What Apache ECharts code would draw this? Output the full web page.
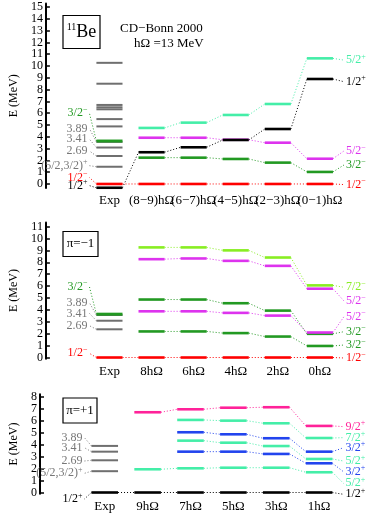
<!DOCTYPE html>
<html>
<head>
<meta charset="utf-8">
<script src="https://cdn.jsdelivr.net/npm/echarts@6/dist/echarts.min.js"></script>
<style>
html, body { margin: 0; padding: 0; background: #fff; }
#chart { width: 374px; height: 516px; }
</style>
</head>
<body>
<div id="chart"></div>
<script>
//--------------------------------
// Data (energies in MeV, index 0 = Exp column)
//--------------------------------
const cats1 = ['Exp', '(8−9)hΩ', '(6−7)hΩ', '(4−5)hΩ', '(2−3)hΩ', '(0−1)hΩ'];
const cats2 = ['Exp', '8hΩ', '6hΩ', '4hΩ', '2hΩ', '0hΩ'];
const cats3 = ['Exp', '9hΩ', '7hΩ', '5hΩ', '3hΩ', '1hΩ'];

const ticks1 = [0, 1, 2, 3, 4, 5, 6, 7, 8, 9, 10, 11, 12, 13, 14, 15];
const ticks2 = [0, 1, 2, 3, 4, 5, 6, 7, 8, 9, 10, 11];
const ticks3 = [0, 1, 2, 3, 4, 5, 6, 7, 8];

// panel 1 : all states
const p1Red = [0, 0, 0, 0, 0, 0];                      // 1/2-
const p1Black = [-0.32, 2.69, 3.11, 3.73, 4.66, 8.9];  // 1/2+
const p1Green = [null, 2.23, 2.23, 2.12, 1.81, 1.02];  // 3/2-
const p1Magenta = [null, 3.92, 3.92, 3.75, 3.5, 2.14]; // 5/2-
const p1Mint = [null, 4.75, 5.2, 5.85, 6.78, 10.65];   // 5/2+
const p1ExpGrey = [10.27, 8.5, 6.7, 6.5, 6.33, 5.5, 4.88, 3.57, 3.09, 2.37, 1.46];
const p1ExpGreen = [3.64];

// panel 2 : pi = -1
const p2Red = [0, 0, 0, 0, 0, 0];                       // 1/2-
const p2Green1 = [null, 2.19, 2.19, 2.05, 1.76, 0.97];  // 3/2-
const p2Magenta1 = [null, 3.88, 3.88, 3.75, 3.52, 2.1]; // 5/2-
const p2Green2 = [null, 4.87, 4.87, 4.56, 3.94, 1.99];  // 3/2-
const p2Magenta2 = [null, 8.26, 8.32, 8.12, 7.7, 5.78]; // 5/2-
const p2Lime = [null, 9.25, 9.25, 9.0, 8.4, 6.06];      // 7/2-
const p2ExpGrey = [3.57, 3.09, 2.37];
const p2ExpGreen = [3.64];

// panel 3 : pi = +1
const p3Black = [0, 0, 0, 0, 0, 0];                     // 1/2+
const p3Mint1 = [null, 1.94, 2.02, 2.07, 2.07, 1.69];   // 5/2+
const p3Blue1 = [null, null, 3.41, 3.41, 3.22, 2.44];   // 3/2+
const p3Mint2 = [null, null, 4.33, 4.16, 3.88, 2.8];    // 5/2+
const p3Blue2 = [null, null, 5.03, 4.86, 4.53, 3.41];   // 3/2+
const p3Mint3 = [null, null, 6.06, 6.0, 5.78, 4.55];    // 7/2+
const p3Pink = [null, 6.7, 6.95, 7.08, 7.12, 5.56];     // 9/2+
const p3ExpGrey = [3.89, 3.41, 2.69, 1.78];

// spin labels (text, level they point to)
const p1LeftText = ['3/2^−', '3.89', '3.41', '2.69', '(5/2,3/2)^+', '1/2^−', '1/2^+'];
const p1LeftTo = [3.64, 3.57, 3.09, 2.37, 1.46, 0, -0.32];
const p1RightText = ['5/2^+', '1/2^+', '5/2^−', '3/2^−', '1/2^−'];
const p2LeftText = ['3/2^−', '3.89', '3.41', '2.69', '1/2^−'];
const p2LeftTo = [3.64, 3.57, 3.09, 2.37, 0];
const p2RightText = ['7/2^−', '5/2^−', '5/2^−', '3/2^−', '3/2^−', '1/2^−'];
const p3LeftText = ['3.89', '3.41', '2.69', '(5/2,3/2)^+', '1/2^+'];
const p3LeftTo = [3.89, 3.41, 2.69, 1.78, 0];
const p3RightText = ['9/2^+', '7/2^+', '3/2^+', '5/2^+', '3/2^+', '5/2^+', '1/2^+'];

//--------------------------------
// Layout / style
//--------------------------------
// label heights (spread out so they don't collide)
const p1LeftY = [6.0, 4.7, 3.8, 2.8, 1.55, 0.55, -0.14];
const p1RightY = [10.5, 8.67, 2.8, 1.61, -0.05];
const p2LeftY = [5.95, 4.6, 3.71, 2.67, 0.35];
const p2RightY = [5.9, 4.75, 3.43, 2.17, 1.05, -0.04];
const p3LeftY = [4.58, 3.74, 2.63, 1.6, -0.54];
const p3RightY = [5.5, 4.58, 3.74, 2.63, 1.74, 0.77, -0.15];

const C = {
    red: '#ff0000', black: '#000000', grey: '#6f6f6f', greyTxt: '#777777',
    green: '#229922', mint: '#44eea8', magenta: '#dd33ee',
    lime: '#88ee22', pink: '#ff2299', blue: '#2244ee'
};
const FONT = 'Liberation Serif';
const HALF = 0.31;

const RICH = {
    n: { fontSize: 12, fontFamily: FONT, lineHeight: 15 },
    s: { fontSize: 8, fontFamily: FONT, lineHeight: 8, verticalAlign: 'top' }
};
const sup = (t) => {
    const k = t.indexOf('^');
    if (k < 0) return '{n|' + t + '}';
    return '{n|' + t.slice(0, k) + '}{s|' + t.slice(k + 1) + '}';
};

//--------------------------------
// Series builders
//--------------------------------
const pts = (vals) => vals.map((v, i) => v == null ? null : [i, v]).filter(d => d);
const expPts = (vals) => vals.map(v => [0, v]);

const levelSeries = (g, data, color, w) => ({
    type: 'custom', xAxisIndex: g, yAxisIndex: g, silent: true, clip: false, data,
    renderItem: (params, api) => {
        const c = api.coord([api.value(0), api.value(1)]);
        const hw = api.size([HALF, 0])[0];
        return {
            type: 'line',
            shape: { x1: c[0] - hw, y1: c[1], x2: c[0] + hw, y2: c[1] },
            style: { stroke: color, lineWidth: w }
        };
    }
});

const linkSeries = (g, vals, color) => {
    const data = [];
    for (let i = 0; i < vals.length - 1; i++) {
        if (vals[i] != null && vals[i + 1] != null) data.push([i, vals[i], i + 1, vals[i + 1]]);
    }
    return {
        type: 'custom', xAxisIndex: g, yAxisIndex: g, silent: true, clip: false, data,
        renderItem: (params, api) => {
            const a = api.coord([api.value(0), api.value(1)]);
            const b = api.coord([api.value(2), api.value(3)]);
            const hw = api.size([HALF, 0])[0];
            return {
                type: 'line',
                shape: { x1: a[0] + hw, y1: a[1], x2: b[0] - hw, y2: b[1] },
                style: { stroke: color, lineWidth: 1, lineDash: [1, 2] }
            };
        }
    };
};

// side = 'left' (Exp column) or 'right' (last column)
const labelSeries = (g, side, texts, ys, targets, colors) => ({
    type: 'custom', xAxisIndex: g, yAxisIndex: g, silent: true, clip: false,
    data: texts.map((t, i) => [ys[i], targets[i], i]),
    renderItem: (params, api) => {
        const col = side === 'left' ? 0 : 5;
        const i = api.value(2);
        const lv = api.coord([col, api.value(1)]);
        const lb = api.coord([col, api.value(0)]);
        const hw = api.size([HALF, 0])[0];
        const color = colors[i];
        const txtColor = color === C.grey ? C.greyTxt : color;
        let x0, x1, tx, align;
        if (side === 'left') {
            x0 = lv[0] - hw; x1 = x0 - 7; tx = x0 - 9; align = 'right';
        } else {
            x0 = lv[0] + hw; x1 = x0 + 11; tx = x0 + 13; align = 'left';
        }
        return {
            type: 'group',
            children: [
                {
                    type: 'line',
                    shape: { x1: x0, y1: lv[1], x2: x1, y2: lb[1] },
                    style: { stroke: txtColor, lineWidth: 1, lineDash: [1, 2] }
                },
                {
                    type: 'text',
                    style: {
                        text: sup(texts[i]), rich: RICH, x: tx, y: lb[1],
                        align, verticalAlign: 'middle', fill: txtColor
                    }
                }
            ]
        };
    }
});

const panelSeries = (g, theory, expGrey, expGreen) => {
    const out = [];
    for (const [vals, color] of theory) out.push(linkSeries(g, vals, color));
    out.push(levelSeries(g, expPts(expGrey), C.grey, 2));
    if (expGreen) out.push(levelSeries(g, expPts(expGreen), C.green, 3));
    for (const [vals, color] of theory) out.push(levelSeries(g, pts(vals), color, 2.6));
    return out;
};

//--------------------------------
// Axes
// labels are split over two axes per grid (even / odd) so none gets hidden
//--------------------------------
const grids = [
    { left: 34, top: 3.5, width: 328, height: 184.6 },
    { left: 34, top: 222.4, width: 328, height: 136.3 },
    { left: 34, top: 394.3, width: 328, height: 99.4 }
];
const yRange = [[-0.35, 15.3], [-0.1, 11.35], [-0.1, 8.2]];
const yTicks = [ticks1, ticks2, ticks3];
const xCats = [cats1, cats2, cats3];
const catIdx = [0, 1, 2, 3, 4, 5];

const even = (arr) => arr.filter((v, i) => i % 2 === 0);
const odd = (arr) => arr.filter((v, i) => i % 2 === 1);

const xAxis = (cats, g, vals) => ({
    type: 'value', gridIndex: g, min: -1.51, max: 6.0, position: 'bottom',
    axisLine: { show: false, onZero: false }, axisTick: { show: false }, splitLine: { show: false },
    axisLabel: {
        customValues: vals,
        formatter: (v) => cats[Math.round(v)],
        showMinLabel: true, showMaxLabel: true, hideOverlap: false,
        margin: 6, fontSize: 13, fontFamily: FONT, color: '#000'
    }
});
const xAxes = [
    ...xCats.map((cats, g) => xAxis(cats, g, even(catIdx))),
    ...xCats.map((cats, g) => xAxis(cats, g, odd(catIdx)))
];

const yLabel = (vals) => ({
    customValues: vals, showMinLabel: true, showMaxLabel: true, hideOverlap: false,
    margin: 3, fontSize: 12, fontFamily: FONT, color: '#000'
});
const yAxes = [
    ...yRange.map((r, g) => ({
        type: 'value', gridIndex: g, min: r[0], max: r[1], position: 'left',
        name: 'E (MeV)', nameLocation: 'middle', nameGap: 20,
        nameTextStyle: { fontSize: 12, fontFamily: FONT, color: '#000' },
        splitLine: { show: false },
        axisLine: { show: true, onZero: false, lineStyle: { color: '#000', width: 2 } },
        axisTick: { show: true, inside: true, length: 4, customValues: yTicks[g], lineStyle: { color: '#000', width: 1.5 } },
        axisLabel: yLabel(even(yTicks[g]))
    })),
    ...yRange.map((r, g) => ({
        type: 'value', gridIndex: g, min: r[0], max: r[1], position: 'left', offset: 0,
        splitLine: { show: false },
        axisLine: { show: false, onZero: false },
        axisTick: { show: false },
        axisLabel: yLabel(odd(yTicks[g]))
    }))
];

//--------------------------------
// Series
//--------------------------------
const series = [
    ...panelSeries(0, [[p1Magenta, C.magenta], [p1Mint, C.mint], [p1Green, C.green], [p1Black, C.black], [p1Red, C.red]],
        p1ExpGrey, p1ExpGreen),
    labelSeries(0, 'left', p1LeftText, p1LeftY, p1LeftTo, [C.green, C.grey, C.grey, C.grey, C.grey, C.red, C.black]),
    labelSeries(0, 'right', p1RightText, p1RightY, [p1Mint[5], p1Black[5], p1Magenta[5], p1Green[5], p1Red[5]],
        [C.mint, C.black, C.magenta, C.green, C.red]),

    ...panelSeries(1, [[p2Lime, C.lime], [p2Magenta2, C.magenta], [p2Green2, C.green], [p2Magenta1, C.magenta],
        [p2Green1, C.green], [p2Red, C.red]], p2ExpGrey, p2ExpGreen),
    labelSeries(1, 'left', p2LeftText, p2LeftY, p2LeftTo, [C.green, C.grey, C.grey, C.grey, C.red]),
    labelSeries(1, 'right', p2RightText, p2RightY,
        [p2Lime[5], p2Magenta2[5], p2Magenta1[5], p2Green2[5], p2Green1[5], p2Red[5]],
        [C.lime, C.magenta, C.magenta, C.green, C.green, C.red]),

    ...panelSeries(2, [[p3Pink, C.pink], [p3Mint3, C.mint], [p3Blue2, C.blue], [p3Mint2, C.mint], [p3Blue1, C.blue],
        [p3Mint1, C.mint], [p3Black, C.black]], p3ExpGrey, null),
    labelSeries(2, 'left', p3LeftText, p3LeftY, p3LeftTo, [C.grey, C.grey, C.grey, C.grey, C.black]),
    labelSeries(2, 'right', p3RightText, p3RightY,
        [p3Pink[5], p3Mint3[5], p3Blue2[5], p3Mint2[5], p3Blue1[5], p3Mint1[5], p3Black[5]],
        [C.pink, C.mint, C.blue, C.mint, C.blue, C.mint, C.black])
];

//--------------------------------
// Boxes and titles
//--------------------------------
const box = (x, y, w, h) => ({
    type: 'rect', shape: { x, y, width: w, height: h },
    style: { fill: 'none', stroke: '#000', lineWidth: 1.2 }, silent: true
});
const graphic = [
    box(63, 15.5, 37, 33),
    {
        type: 'text', x: 81.5, y: 32, silent: true,
        style: {
            text: '{s|11}{b|Be}', align: 'center', verticalAlign: 'middle', fill: '#000',
            rich: {
                s: { fontSize: 10, fontFamily: FONT, lineHeight: 10, verticalAlign: 'top' },
                b: { fontSize: 18, fontFamily: FONT, lineHeight: 20 }
            }
        }
    },
    { type: 'text', x: 120, y: 29, silent: true, style: { text: 'CD−Bonn 2000', fontSize: 13, fontFamily: FONT, fill: '#000', verticalAlign: 'middle' } },
    { type: 'text', x: 134, y: 44, silent: true, style: { text: 'hΩ =13 MeV', fontSize: 13, fontFamily: FONT, fill: '#000', verticalAlign: 'middle' } },
    box(63, 231.5, 35, 25),
    { type: 'text', x: 80.5, y: 244, silent: true, style: { text: 'π=−1', fontSize: 13, fontFamily: FONT, fill: '#000', align: 'center', verticalAlign: 'middle' } },
    box(63, 398, 34, 25),
    { type: 'text', x: 80, y: 410.5, silent: true, style: { text: 'π=+1', fontSize: 13, fontFamily: FONT, fill: '#000', align: 'center', verticalAlign: 'middle' } }
];

const myChart = echarts.init(document.getElementById('chart'), null, { renderer: 'canvas' });
myChart.setOption({
    animation: false,
    backgroundColor: '#fff',
    grid: grids,
    xAxis: xAxes,
    yAxis: yAxes,
    series,
    graphic
});
</script>
</body>
</html>
